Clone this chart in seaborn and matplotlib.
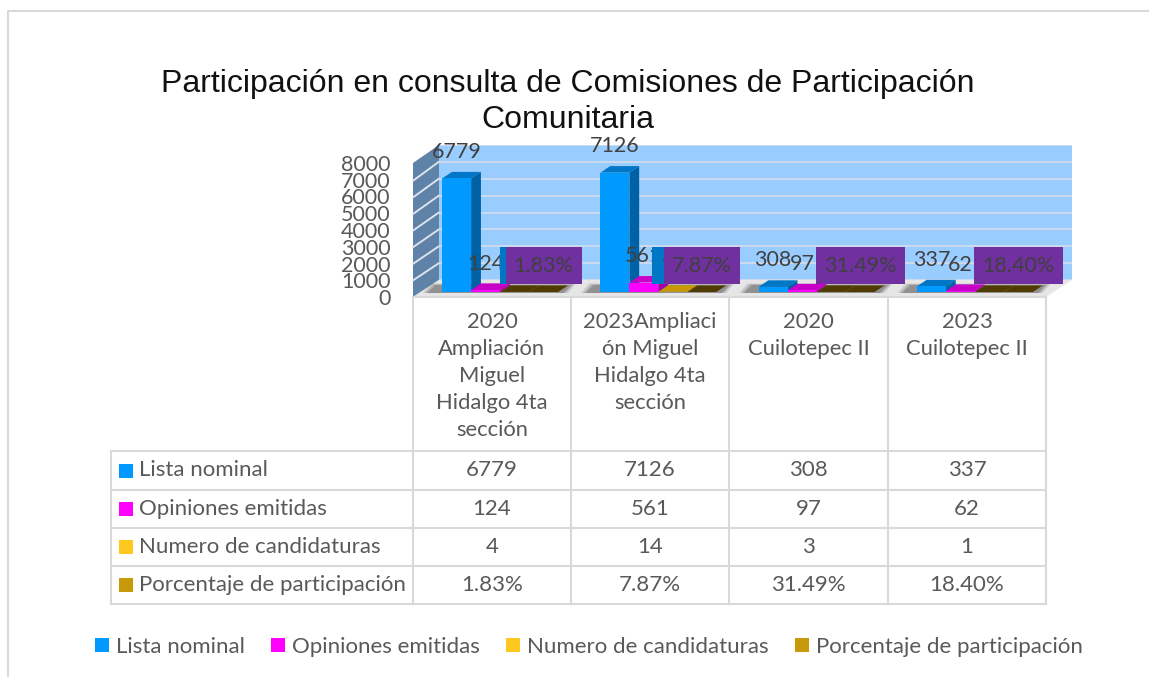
import numpy as np
import pandas as pd
import matplotlib
matplotlib.use("Agg")
import matplotlib.pyplot as plt
import seaborn as sns
from matplotlib.patches import Polygon, Rectangle
from matplotlib.transforms import ScaledTranslation

# data
lugares = ["2020 Ampliación Miguel Hidalgo 4ta sección",
           "2023Ampliación Miguel Hidalgo 4ta sección",
           "2020 Cuilotepec II",
           "2023 Cuilotepec II"]
lugares_tabla = ["2020\nAmpliación\nMiguel\nHidalgo 4ta\nsección",
                 "2023Ampliaci\nón Miguel\nHidalgo 4ta\nsección",
                 "2020\nCuilotepec II",
                 "2023\nCuilotepec II"]
series = ["Lista nominal", "Opiniones emitidas", "Numero de candidaturas", "Porcentaje de participación"]
lista_nominal = [6779, 7126, 308, 337]
opiniones = [124, 561, 97, 62]
candidaturas = [4, 14, 3, 1]
porcentaje = [0.0183, 0.0787, 0.3149, 0.1840]
yticks = [0, 1000, 2000, 3000, 4000, 5000, 6000, 7000, 8000]

# colours: front, side, top
colores = ["#0099FF", "#FF00FF", "#FFC000", "#C89800"]
lados = ["#0062A6", "#A600A6", "#A67C00", "#7A5C00"]
tapas = ["#0076C6", "#C800C8", "#C89800", "#503C00"]
swatches = ["#0099FF", "#FF00FF", "#FFC81E", "#C89A0A"]
gris = "#595959"
W, H = 1149, 677


def px_axes(fig, x0, y0, x1, y1, **kw):
    return fig.add_axes([x0 / W, 1 - y1 / H, (x1 - x0) / W, (y1 - y0) / H], **kw)


def fmt(v):
    return f"{v:.2%}" if v < 1 else f"{v:d}"


sns.set_theme(style="white")
plt.rcParams['font.family'] = ['Lato', 'DejaVu Sans']

valores = [lista_nominal, opiniones, candidaturas, porcentaje]
df = pd.DataFrame({
    "lugar": lugares * 4,
    "serie": np.repeat(series, 4),
    "valor": np.concatenate(valores),
})

fig = plt.figure(figsize=(W / 100, H / 100), dpi=100)

# pixel layer for frame, walls, floor, table
base = fig.add_axes([0, 0, 1, 1], zorder=0)
base.set_xlim(0, W)
base.set_ylim(H, 0)
base.axis("off")
base.plot([8, 8, W], [H, 11, 11], color="#D9D9D9", lw=1.5)

base.text(568, 84, "Participación en consulta de Comisiones de Participación",
          ha="center", va="center", fontsize=23, family="Liberation Sans", color="#111111")
base.text(568, 120, "Comunitaria", ha="center", va="center", fontsize=23,
          family="Liberation Sans", color="#111111")

# left wall and floor
base.add_patch(Polygon([(413, 297), (413, 163), (439, 145), (439, 280)], fc="#5F82A8", ec="none"))
for t in yticks[1:-1]:
    k = t / 1000
    base.plot([413, 439], [297 - 16.6 * k, 280 - 16.9 * k], color="#DCE3EC", lw=1.4)
base.add_patch(Polygon([(413, 297), (439, 280), (1072, 280), (1046, 297)], fc="#E6E6E6", ec="none"))

# back wall
back = px_axes(fig, 439, 145, 1072, 280, zorder=1)
back.set_facecolor("#99CCFF")
back.set_ylim(0, 8000)
back.set_yticks(yticks)
back.set_xticks([])
back.tick_params(left=False, labelleft=False)
back.grid(axis="y", color="#C9D9F0", lw=1.5)
sns.despine(ax=back, left=True, bottom=True)

# bars
ax = px_axes(fig, 421, 158, 1054, 292, zorder=2)
ax.patch.set_alpha(0)
sns.barplot(data=df, x="lugar", y="valor", hue="serie", hue_order=series, order=lugares,
            palette=colores, saturation=1, width=0.733, gap=0, linewidth=0, ax=ax, legend=True)
ax.set_xlim(-0.5, 3.5)
ax.set_ylim(0, 8000)
ax.set_yticks(yticks)
ax.set_xlabel("")
ax.set_ylabel("")
ax.set_xticks([])
ax.tick_params(axis="y", length=0, pad=22, labelsize=15.5, labelcolor=gris)
bajar = ScaledTranslation(0, -5 / 72 * 0.72, fig.dpi_scale_trans)
for lab in ax.get_yticklabels():
    lab.set_transform(lab.get_transform() + bajar)
sns.despine(ax=ax, left=True, bottom=True)

# soft shadow on the floor
for i in range(len(lugares)):
    for grow, a in [(0.03, 0.12), (0.015, 0.18), (0.0, 0.25)]:
        xa, xb = i - 0.46 - grow, i + 0.40 + grow
        ax.fill([xa, xb, xb + 0.05, xa + 0.05], [-60, -60, 420 + grow * 3000, 420 + grow * 3000],
                color="#303030", alpha=a, lw=0, zorder=0.5, clip_on=False)

# 3D depth of each bar, taken from the bars themselves
dx, dy = 0.062, 390
for s, cont in enumerate(ax.containers):
    for b in cont:
        x0, w, h = b.get_x(), b.get_width(), b.get_height()
        # the smallest candidaturas bars come out dark on top, like the percent ones
        tapa = tapas[3] if s == 2 and h < 10 else tapas[s]
        ax.fill([x0 + w, x0 + w + dx, x0 + w + dx, x0 + w], [0, dy, h + dy, h],
                color=lados[s], lw=0, zorder=2 + s * 0.1)
        ax.fill([x0, x0 + w, x0 + w + dx, x0 + dx], [h, h, h + dy, h + dy],
                color=tapa, lw=0, zorder=2 + s * 0.1)
        b.set_zorder(2.05 + s * 0.1)

# data labels
for s, cont in enumerate(ax.containers):
    caja = None
    if s == 2:
        caja = dict(boxstyle="square,pad=0.38", fc="#0076C6", ec="none")
    if s == 3:
        caja = dict(boxstyle="square,pad=0.38", fc="#7030A0", ec="none")
    for b, v in zip(cont, valores[s]):
        ax.annotate(fmt(v), (b.get_x() + b.get_width() / 2, b.get_height()),
                    xytext=(0, 19), textcoords="offset points", ha="center", va="center",
                    fontsize=15.5, color="#404040", bbox=caja, zorder=5 + s, annotation_clip=False)

# legend
handles = [Rectangle((0, 0), 1, 1, fc=c, ec="none") for c in swatches]
ax.get_legend().remove()
fig.legend(handles, series, ncols=4, frameon=False, fontsize=16, labelcolor=gris,
           handlelength=0.63, handleheight=0.63, handletextpad=0.3, columnspacing=1.2,
           loc="center", bbox_to_anchor=(589 / W, 1 - 647 / H))

# data table
col_x = [413, 571, 729, 888, 1046]
row_y = [451, 490, 528, 566, 604]
for x in col_x:
    base.plot([x, x], [297, 604], color="#D9D9D9", lw=1.5, solid_capstyle="projecting")
for y in row_y:
    base.plot([111, 1046], [y, y], color="#D9D9D9", lw=1.5, solid_capstyle="projecting")
base.plot([111, 111], [451, 604], color="#D9D9D9", lw=1.5)
base.plot([413, 1046], [297, 297], color="#D9D9D9", lw=1.5)

for j, txt in enumerate(lugares_tabla):
    base.text((col_x[j] + col_x[j + 1]) / 2, 312, txt, ha="center", va="top", fontsize=15.8,
              color=gris, linespacing=1.44)
for r, nombre in enumerate(series):
    yc = (row_y[r] + row_y[r + 1]) / 2
    base.add_patch(Rectangle((119, yc - 7), 14, 14, fc=swatches[r], ec="none"))
    base.text(139, yc, nombre, ha="left", va="center", fontsize=16, color=gris)
    for j, v in enumerate(valores[r]):
        base.text((col_x[j] + col_x[j + 1]) / 2, yc, fmt(v), ha="center", va="center",
                  fontsize=16, color=gris)

plt.savefig("out.png", dpi=100)
plt.close()
